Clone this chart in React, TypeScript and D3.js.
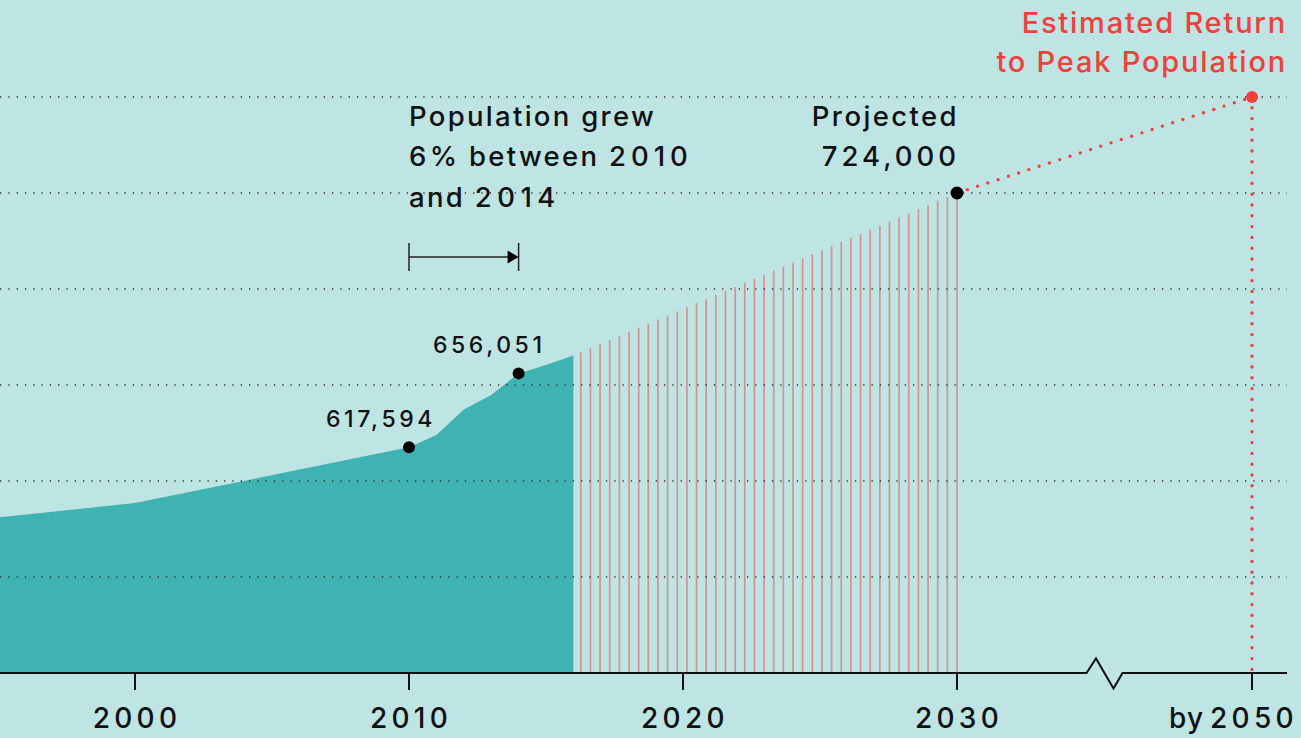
import React from "react";
import * as d3 from "d3";

// ---- Data ----
const historyYears = [1995, 2000, 2010, 2011, 2012, 2013, 2014, 2015, 2016];
const historyValues = [581000, 588500, 617594, 624000, 637300, 644800, 656051, 660400, 665400];
const projectionYears = [2016, 2030];
const projectionValues = [665400, 750000];
const peakYear = 2050;
const peakValue = 800000;
const gridValues = [550000, 600000, 650000, 700000, 750000, 800000];
const tickYears = [2000, 2010, 2020, 2030, 2050];
const tickLabels = ["2000", "2010", "2020", "2030", "by 2050"];
const markedYears = [2010, 2014];
const markedLabels = ["617,594", "656,051"];
const stripeStartYear = 2016.27;
const stripeCount = 40;
const breakYear = 2040;

const W = 1301;
const H = 738;
const BG = "#bee5e3";
const AREA = "#3fb3b1";
const STRIPE = "#d6938e";
const RED = "#ef403b";
const INK = "#111";
const FONT = "Inter, 'Noto Sans', sans-serif";

export default function App() {
  const x = d3.scaleLinear().domain([2000, 2030, 2050]).range([135, 957, 1252]);
  const y = d3.scaleLinear().domain([500000, 800000]).range([673, 97]);
  const base = y(500000);

  const hist = historyYears.map((yr, i) => ({ yr, v: historyValues[i] }));
  const area = d3
    .area<{ yr: number; v: number }>()
    .x((d) => x(d.yr))
    .y0(base)
    .y1((d) => y(d.v))(hist);

  const proj = d3.scaleLinear().domain(projectionYears).range(projectionValues);
  const stripeStep = (projectionYears[1] - stripeStartYear) / (stripeCount - 1);
  const stripes = d3.range(stripeCount).map((i) => stripeStartYear + i * stripeStep);

  const bx = x(breakYear);
  const axisLeft = 0;
  const axisRight = 1287;
  const zig = d3.line()([
    [axisLeft, base],
    [bx - 18, base],
    [bx - 8.5, base - 14.5],
    [bx + 9, base + 15.5],
    [bx + 18, base],
    [axisRight, base],
  ]);

  const p2030 = { x: x(projectionYears[1]), y: y(projectionValues[1]) };
  const pPeak = { x: x(peakYear), y: y(peakValue) };

  const arrowY = 257;
  const ax0 = x(markedYears[0]);
  const ax1 = x(markedYears[1]);

  const [byWord, byYear] = tickLabels[4].split(" ");

  return (
    <svg
      width={W}
      height={H}
      style={{ position: "absolute", left: 0, top: 0, background: BG }}
      fontFamily={FONT}
      fontWeight={500}
    >
      <rect width={W} height={H} fill={BG} />
      <path d={area || ""} fill={AREA} />
      {stripes.map((yr, i) => (
        <line
          key={i}
          x1={x(yr)}
          x2={x(yr)}
          y1={base}
          y2={y(proj(yr))}
          stroke={STRIPE}
          strokeWidth={1.7}
        />
      ))}
      {gridValues.map((g) => (
        <line
          key={g}
          x1={0}
          x2={axisRight}
          y1={y(g)}
          y2={y(g)}
          stroke="#333"
          strokeWidth={1.3}
          strokeDasharray="1.3 7"
        />
      ))}
      {/* red projection lines */}
      <line
        x1={p2030.x}
        y1={p2030.y}
        x2={pPeak.x}
        y2={pPeak.y}
        stroke={RED}
        strokeWidth={3.4}
        strokeLinecap="round"
        strokeDasharray="0 10.8"
      />
      <line
        x1={pPeak.x}
        y1={pPeak.y}
        x2={pPeak.x}
        y2={base}
        stroke={RED}
        strokeWidth={3.4}
        strokeLinecap="round"
        strokeDasharray="0 10.8"
      />
      {/* axis */}
      <path d={zig || ""} fill="none" stroke={INK} strokeWidth={2} />
      {tickYears.map((t, i) => (
        <g key={t}>
          <line x1={x(t)} x2={x(t)} y1={base} y2={base + 17} stroke={INK} strokeWidth={2} />
          {t === 2050 ? (
            <g fontSize={28} fill={INK}>
              <text x={x(t) - 48} y={728} textAnchor="end" letterSpacing={1}>
                {byWord}
              </text>
              <text x={x(t) + 2} y={728} textAnchor="middle" letterSpacing={4.3}>
                {byYear}
              </text>
            </g>
          ) : (
            <text
              x={x(t) + 2}
              y={728}
              textAnchor="middle"
              fontSize={28}
              letterSpacing={4.3}
              fill={INK}
            >
              {tickLabels[i]}
            </text>
          )}
        </g>
      ))}
      {/* marked points */}
      {markedYears.map((yr, i) => {
        const v = historyValues[historyYears.indexOf(yr)];
        return (
          <g key={yr}>
            <circle cx={x(yr)} cy={y(v)} r={6} fill="#000" />
            <text
              x={x(yr) + 27}
              y={y(v) - 20}
              textAnchor="end"
              fontSize={23}
              letterSpacing={3.6}
              fill={INK}
            >
              {markedLabels[i]}
            </text>
          </g>
        );
      })}
      <circle cx={p2030.x} cy={p2030.y} r={6.5} fill="#000" />
      <circle cx={pPeak.x} cy={pPeak.y} r={6} fill={RED} />
      {/* arrow annotation */}
      <line x1={ax0} x2={ax1 - 10} y1={arrowY} y2={arrowY} stroke="#222" strokeWidth={1.5} />
      <line x1={ax0} x2={ax0} y1={arrowY - 14} y2={arrowY + 14} stroke="#222" strokeWidth={1.5} />
      <line x1={ax1} x2={ax1} y1={arrowY - 14} y2={arrowY + 14} stroke="#222" strokeWidth={1.5} />
      <path d={`M${ax1 - 11},${arrowY - 6.5}L${ax1},${arrowY}L${ax1 - 11},${arrowY + 6.5}Z`} fill="#000" />
      {/* texts */}
      <g fontSize={27.5} fill={INK} letterSpacing={2.3}>
        <text x={ax0} y={126}>Population grew</text>
        <text x={ax0} y={166}>
          <tspan letterSpacing={3.5}>6</tspan>
          <tspan>% between </tspan>
          <tspan letterSpacing={5}>2010</tspan>
        </text>
        <text x={ax0} y={207}>
          <tspan>and </tspan>
          <tspan letterSpacing={5.5}>2014</tspan>
        </text>
      </g>
      <g fontSize={27.5} fill={INK} textAnchor="end">
        <text x={p2030.x + 2} y={126} letterSpacing={2.4}>Projected</text>
        <text x={p2030.x + 3} y={166} letterSpacing={4}>724,000</text>
      </g>
      <g fontSize={29} fill={RED} textAnchor="end" letterSpacing={1.8}>
        <text x={1287} y={33}>Estimated Return</text>
        <text x={1287} y={72}>to Peak Population</text>
      </g>
    </svg>
  );
}
